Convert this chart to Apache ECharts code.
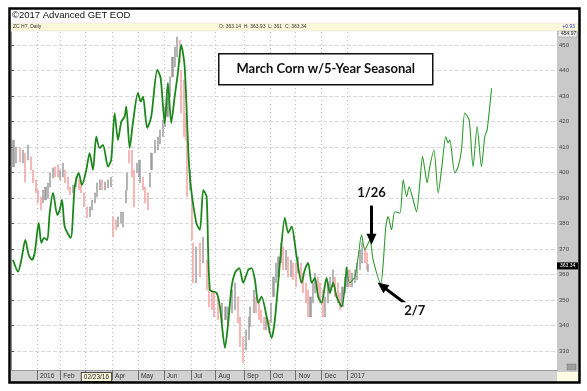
<!DOCTYPE html>
<html><head><meta charset="utf-8">
<script src="https://cdn.jsdelivr.net/npm/echarts@6/dist/echarts.min.js"></script>
<style>html,body{margin:0;padding:0;background:#fff}#c{width:587px;height:391px}</style>
</head><body><div id="c"></div>
<script>
// ---- axis definitions (trading-day index from left edge) ----
const monthTickDays = [21,40,60,82,103,124,146,166,189,210,231,252,273];
const monthLabelDays = [21,40,55,82,103,124,146,166,189,210,231,252,273];
const monthLabels = ['2016','Feb','02/23/16','Apr','May','Jun','Jul','Aug','Sep','Oct','Nov','Dec','2017'];
const priceTicks = [330,340,350,360,370,380,390,400,410,420,430,440,450];

// ---- March corn daily bars (sampled) ----
const barDay = [2,4,7,10,11,14,16,18,20,22,24,26,28,30,32,34,36,38,40,42,44,46,48,50,53,55,57,59,62,64,66,68,70,72,74,76,79,81,83,85,87,89,91,93,94,96,98,100,102,104,105,107,109,111,113,114,117,119,121,123,125,127,129,131,133,135,137,138,140,142,143,145,147,148,150,153,156,159,161,163,165,168,171,174,176,179,182,184,186,188,191,193,194,197,199,201,203,205,207,209,211,213,215,217,219,221,223,225,227,229,231,233,235,237,239,241,243,245,247,249,251,253,255,257,259,261,263,265,267,269,271,273,275,277,279,281,283,285,287,289,290];
const barHigh = [412.7,410.0,409.6,408.8,407.6,410.8,406.1,401.0,397.1,393.1,390.4,393.1,394.3,395.9,399.8,401.8,402.2,403.0,401.0,403.7,401.0,398.2,394.3,395.1,398.2,397.1,395.9,392.0,386.5,386.5,389.2,392.0,395.9,397.1,397.1,396.3,397.1,398.2,382.6,381.4,382.6,384.5,384.5,393.1,399.8,408.8,408.8,401.0,403.7,404.9,404.9,398.2,394.3,392.0,399.8,407.6,412.7,414.0,416.7,420.6,425.7,429.6,437.5,445.3,449.2,453.1,452.0,440.2,436.3,423.3,412.7,401.0,390.4,372.4,370.8,372.4,374.7,365.7,356.7,353.9,352.7,351.2,348.8,347.3,347.3,353.9,356.7,351.2,343.3,335.5,338.2,343.3,347.3,353.9,351.2,348.8,346.1,343.3,343.3,342.2,348.8,359.0,364.5,366.9,372.4,370.8,369.6,366.9,365.7,364.5,364.5,366.9,364.5,360.6,356.7,353.9,351.2,356.7,360.6,359.0,356.7,353.9,351.2,356.7,359.0,361.8,359.0,356.7,352.7,355.1,359.0,361.8,361.8,360.6,361.8,364.5,369.6,372.4,370.8,368.5,363.93];
const barLow = [402.2,403.7,404.1,403.7,396.3,404.9,401.0,395.9,392.0,388.0,385.3,388.0,389.2,390.0,394.3,397.8,398.2,398.2,397.1,398.2,395.9,393.1,391.2,392.0,394.3,393.1,392.0,386.5,382.2,382.6,385.3,388.0,390.4,393.1,393.1,393.1,393.9,394.3,374.7,377.5,378.6,380.2,378.6,388.0,393.1,403.7,398.2,386.5,399.8,398.2,395.9,393.1,388.0,385.3,394.3,401.0,407.6,408.8,411.2,414.0,417.8,421.8,429.6,437.5,441.4,445.3,443.0,423.3,414.0,412.7,390.4,393.1,373.5,356.7,356.7,359.0,364.5,353.9,347.3,346.1,343.3,342.2,341.0,342.2,341.0,344.9,346.1,341.0,331.6,325.3,330.4,334.3,339.4,344.9,344.9,342.2,341.0,338.2,338.2,337.1,341.0,351.2,356.7,359.0,364.5,361.8,361.8,359.0,359.0,357.9,355.1,360.6,356.7,352.7,348.8,343.3,343.3,348.8,352.7,351.2,348.8,343.3,343.3,348.8,352.7,355.1,351.2,348.8,346.1,347.3,352.7,355.1,355.1,355.1,356.7,357.9,361.8,364.5,364.5,361.8,361.0];
const barUp = [1,1,0,1,0,1,0,0,0,0,0,1,1,1,1,1,0,0,1,1,0,0,0,1,1,0,0,0,0,1,1,1,1,1,0,1,1,1,0,0,1,1,1,1,1,0,0,0,1,1,1,0,0,0,1,1,1,1,1,1,1,1,1,1,1,1,0,0,0,0,0,1,0,0,1,0,1,0,0,0,0,0,1,1,1,1,1,0,0,0,1,1,1,1,0,0,0,0,1,0,1,1,1,1,1,0,1,0,1,0,0,1,0,0,0,0,1,1,1,0,0,0,1,1,1,1,0,0,0,1,1,1,0,1,1,1,1,1,0,0,1];

// ---- 5-year seasonal: part drawn over history, and projection ----
const seasonalDay = [1.6,5.7,8.4,11.6,14.4,17.0,19.2,22.5,24.6,26.8,29.4,31.4,34.1,37.6,39.5,41.4,43.6,48.4,51.7,54.9,57.6,61.1,63.8,66.5,69.2,71.9,74.6,78.7,81.3,84.1,86.8,89.5,92.2,93.5,96.3,98.9,103.0,105.2,107.1,110.5,113.8,118.7,121.4,124.7,127.3,130.0,132.8,135.4,138.1,140.9,144.9,150.3,153.3,156.0,158.7,161.4,166.8,169.5,173.6,176.2,179.0,181.7,185.2,188.4,192.5,195.2,197.9,200.6,203.3,207.4,211.4,214.1,218.2,222.2,224.9,227.7,231.7,235.8,238.4,241.1,243.9,246.6,249.2,252.0,256.0,258.7,261.4,264.2,268.2,272.3];
const seasonalValue = [365.7,361.1,365.7,373.5,367.6,365.7,368.4,380.2,372.4,374.3,373.5,384.1,392.0,383.3,385.3,389.2,378.7,374.3,394.4,399.8,395.1,401.0,407.6,401.0,414.0,409.6,410.8,402.3,404.9,423.3,412.7,419.9,421.9,425.8,409.6,419.4,431.2,427.8,429.7,417.5,421.9,440.2,437.1,419.4,435.1,419.4,429.7,439.0,450.0,441.5,399.8,380.2,377.5,393.1,390.5,353.9,352.7,347.4,331.2,341.0,355.2,360.6,362.5,356.7,361.8,362.5,357.8,348.8,351.3,343.5,335.1,342.2,364.5,382.2,376.3,378.7,367.0,356.7,361.8,364.5,356.7,358.6,351.3,348.8,358.6,352.7,356.7,351.3,347.4,363.0];
const projDay = [272.3,274.9,279.0,281.7,284.4,287.1,291.2,293.8,300.0,302.0,304.1,306.0,308.8,311.4,315.5,318.2,321.0,323.0,326.3,329.0,331.7,333.9,335.8,337.6,339.8,343.1,346.6,349.3,352.8,354.7,356.0,360.1,362.8,365.5,368.2,371.7,374.9,378.2,381.7,384.4,386.3,389.9];
const projValue = [363.0,356.7,359.1,367.0,375.5,369.6,373.5,365.7,356.5,364.5,378.7,382.7,377.5,384.6,384.1,397.1,390.5,394.4,389.2,384.6,395.9,406.2,401.0,395.9,402.3,408.8,392.0,401.0,414.0,411.6,412.7,399.8,402.3,408.8,423.3,420.6,402.3,418.0,402.3,414.0,416.7,433.0];

// ---- annotations ----
const noteLabels = ['1/26','2/7'];
const noteTail = [[292.5,387.0],[325.0,346.7]];
const noteTip = [[292.5,373.8],[301.0,355.5]];
const lastClose = 363.34;
const topValue = '454.97';

const chart = echarts.init(document.getElementById('c'));
const FONT = 'Liberation Sans';

const candleData = barDay.map((d,i)=> barUp[i]
  ? [d, barLow[i], barHigh[i], barLow[i], barHigh[i]]
  : [d, barHigh[i], barLow[i], barLow[i], barHigh[i]]);

const option = {
  animation:false,
  backgroundColor:'#fff',
  grid:{left:11,right:30,top:32,bottom:21,show:true,backgroundColor:'#fff',borderWidth:0},
  xAxis:{type:'value',min:0,max:443,
    axisLine:{show:true,lineStyle:{color:'#9a9a9a',width:1}},
    axisTick:{show:true,customValues:monthTickDays,length:10,lineStyle:{color:'#6d6d6d'}},
    axisLabel:{customValues:monthLabelDays,fontSize:6.5,color:'#333',fontFamily:FONT,align:'left',margin:3,padding:[0,0,0,3],
      formatter:(v)=>{const i=monthLabelDays.indexOf(v);const s=monthLabels[i]||'';return i===2?'{c|'+s+'}':s;},
      rich:{c:{fontSize:6.5,fontFamily:FONT,color:'#222',backgroundColor:'#fbf8dc',borderColor:'#444',borderWidth:1,padding:[1,2,0,2]}}},
    splitLine:{show:true,lineStyle:{color:'#c4c4c4',type:[1,3],width:1}}
  },
  yAxis:{type:'value',position:'right',min:322.5,max:455.1,
    axisLine:{show:true,lineStyle:{color:'#8a8a8a'}},
    axisTick:{show:true,customValues:priceTicks,length:3,lineStyle:{color:'#555'}},
    axisLabel:{customValues:priceTicks,fontSize:6,color:'#444',fontFamily:FONT,margin:2},
    splitLine:{show:true,lineStyle:{color:'#dadada',type:[4,2],width:1}}
  },
  series:[
    {type:'candlestick',data:candleData,encode:{x:0,y:[1,2,3,4]},barWidth:1.6,
      itemStyle:{color:'#9c9c9c',color0:'#f2a0a0',borderColor:'#9c9c9c',borderColor0:'#f2a0a0',borderWidth:0.5},z:2},
    {type:'line',data:seasonalDay.map((d,i)=>[d,seasonalValue[i]]),showSymbol:false,smooth:0.25,
      lineStyle:{color:'#1d871d',width:1.8},z:3},
    {type:'line',data:projDay.map((d,i)=>[d,projValue[i]]),showSymbol:false,smooth:0.25,
      lineStyle:{color:'#2f9b2f',width:1.1},z:3,
      markLine:{silent:true,symbol:['none','triangle'],symbolSize:[10,11],
        lineStyle:{color:'#000',width:3,type:'solid'},
        label:{show:true,position:'start',fontSize:13,fontWeight:'bold',fontFamily:'Lato',color:'#111',
          backgroundColor:'#fff',padding:[2,3],distance:4},
        data:noteLabels.map((t,i)=>[{coord:noteTail[i],label:{formatter:t}},{coord:noteTip[i]}])
      }}
  ],
  graphic:[
    {type:'rect',z:-10,shape:{x:557,y:31,width:21,height:341},style:{fill:'#c9c9c9'}},
    {type:'rect',z:-10,shape:{x:11,y:371,width:546,height:11},style:{fill:'#d2d2d2'}},
    {type:'rect',z:-10,shape:{x:557,y:372,width:21,height:10},style:{fill:'#fdfbe2'}},
    {type:'rect',z:-10,shape:{x:11,y:23,width:567,height:8},style:{fill:'#fbf8d9',stroke:'#ddd',lineWidth:0.5}},
    {type:'text',left:12,top:10,style:{text:'©2017 Advanced GET EOD',fontSize:9.5,fontFamily:FONT,fill:'#111'}},
    {type:'text',left:13,top:24,style:{text:'ZC H7, Daily',fontSize:5,fontFamily:FONT,fill:'#333'}},
    {type:'text',left:219,top:24,style:{text:'O: 363.14  H: 363.93  L: 361  C: 363.34',fontSize:5,fontFamily:FONT,fill:'#333'}},
    {type:'text',right:12,top:24,style:{text:'+0.93',fontSize:5,fontFamily:FONT,fill:'#2233cc'}},
    {type:'rect',z:50,shape:{x:558,y:31,width:19,height:6},style:{fill:'#ececec',stroke:'#999',lineWidth:0.5}},
    {type:'text',z:51,left:561,top:31.5,style:{text:topValue,fontSize:5,fontFamily:FONT,fill:'#222'}},
    {type:'rect',z:50,shape:{x:567,y:364,width:9,height:6},style:{fill:'#9d9d9d',stroke:'#777',lineWidth:0.5}},
    {type:'group',z:60,left:218,top:53,children:[
      {type:'rect',z:60,shape:{x:0,y:0,width:214,height:31},style:{fill:'#fff',stroke:'#111',lineWidth:1.5}},
      {type:'text',z:61,x:107,y:15.5,style:{text:'March Corn w/5-Year Seasonal',fontSize:13,fontWeight:'bold',fontFamily:'Lato',fill:'#111',align:'center',verticalAlign:'middle'}}
    ]},
    {type:'rect',z:100,shape:{x:9.5,y:8.5,width:570,height:374},style:{fill:'none',stroke:'#000',lineWidth:2.5}}
  ]
};
chart.setOption(option);
const yLast = chart.convertToPixel({yAxisIndex:0}, lastClose);
chart.setOption({graphic:[
  {type:'rect',id:'lastBox',z:50,shape:{x:557,y:yLast-3.5,width:21,height:7},style:{fill:'#000'}},
  {type:'text',id:'lastTxt',z:51,left:560,top:yLast-3,style:{text:String(lastClose),fontSize:5,fontFamily:FONT,fill:'#fff'}}
]});
</script></body></html>
